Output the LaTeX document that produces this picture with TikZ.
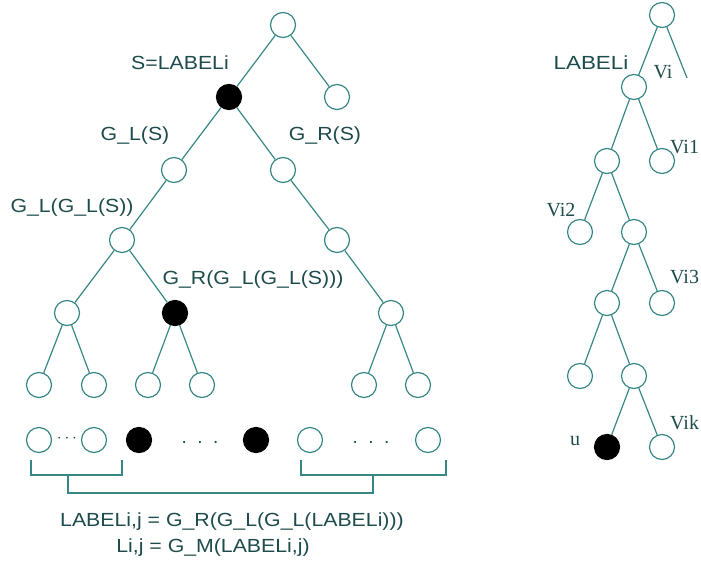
\documentclass[tikz,border=0pt]{standalone}
\usepackage{fontspec}
\setmainfont{Liberation Sans}
\newfontfamily\serifv{Liberation Serif}
\definecolor{lc}{RGB}{55,135,135}
\definecolor{tc}{RGB}{30,75,75}
\newcommand{\wide}[1]{\scalebox{1.12}[1]{#1}}
\tikzset{
  circ/.style={circle, draw=lc, line width=1.2pt, minimum size=25pt, inner sep=0pt},
  blk/.style={circ, fill=black, draw=black},
  edge/.style={draw=lc, line width=1.2pt},
  lbl/.style={text=tc, inner sep=0pt, font=\fontsize{19}{21}\selectfont},
  slbl/.style={text=tc, inner sep=0pt, font=\serifv\fontsize{20}{22}\selectfont},
}
\begin{document}
\begin{tikzpicture}[x=1pt,y=-1pt]
\useasboundingbox (0,0) rectangle (701,565);
% left tree
\node[circ] (r) at (283,25) {};
\node[blk] (s) at (229,97) {};
\node[circ] (rr) at (337,97) {};
\node[circ] (a) at (174,170) {};
\node[circ] (b) at (283,170) {};
\node[circ] (c) at (122,240) {};
\node[circ] (d) at (337,240) {};
\node[circ] (e) at (67,313) {};
\node[blk] (f) at (175,313) {};
\node[circ] (g) at (391,313) {};
\node[circ] (h1) at (39,385) {};
\node[circ] (h2) at (94,385) {};
\node[circ] (h3) at (148,385) {};
\node[circ] (h4) at (202,385) {};
\node[circ] (h5) at (364,385) {};
\node[circ] (h6) at (418,385) {};
\node[circ] (q1) at (39,440) {};
\node[circ] (q2) at (94,440) {};
\node[blk] (q3) at (139,440) {};
\node[blk] (q4) at (256,440) {};
\node[circ] (q5) at (310,440) {};
\node[circ] (q6) at (428,440) {};
\foreach \u/\v in {r/s,r/rr,s/a,s/b,a/c,b/d,c/e,c/f,d/g,e/h1,e/h2,f/h3,f/h4,g/h5,g/h6}
  \draw[edge] (\u) -- (\v);
% dots
\node[text=tc, inner sep=0pt] (dt1) at (67,439) {\fontsize{16}{16}\selectfont$\cdots$};
\node[lbl] (dt2) at (200,442) {.\ \ .\ \ .};
\node[lbl] (dt3) at (371,442) {.\ \ .\ \ .};
% brackets
\draw[edge] (31,460) -- (31,475) -- (122,475) -- (122,460);
\draw[edge] (301,460) -- (301,475) -- (446,475) -- (446,460);
\draw[edge] (68,475) -- (68,493) -- (373,493) -- (373,475);
% labels left
\node[lbl] (l1) at (180,63) {\wide{S=LABELi}};
\node[lbl] (l2) at (135,136) {\wide{G\_L(S)}};
\node[lbl] (l3) at (325,136) {\wide{G\_R(S)}};
\node[lbl] (l4) at (72,208) {\wide{G\_L(G\_L(S))}};
\node[lbl] (l5) at (253,280) {\wide{G\_R(G\_L(G\_L(S)))}};
\node[lbl] (l6) at (232,522) {\wide{LABELi,j = G\_R(G\_L(G\_L(LABELi)))}};
\node[lbl] (l7) at (213,548) {\wide{Li,j = G\_M(LABELi,j)}};
% right tree
\node[circ] (R0) at (662,15) {};
\coordinate (Rend) at (687,78);
\node[circ] (R1) at (634,87) {};
\node[circ] (R2a) at (607,161) {};
\node[circ] (R2b) at (662,161) {};
\node[circ] (R3a) at (580,232) {};
\node[circ] (R3b) at (634,232) {};
\node[circ] (R4a) at (607,303) {};
\node[circ] (R4b) at (662,303) {};
\node[circ] (R5a) at (580,376) {};
\node[circ] (R5b) at (634,376) {};
\node[blk] (R6a) at (607,447) {};
\node[circ] (R6b) at (662,447) {};
\foreach \u/\v in {R0/R1,R1/R2a,R1/R2b,R2a/R3a,R2a/R3b,R3b/R4a,R3b/R4b,R4a/R5a,R4a/R5b,R5b/R6a,R5b/R6b}
  \draw[edge] (\u) -- (\v);
\draw[edge] (R0) -- (Rend);
\node[lbl] (m1) at (591,63) {\scalebox{1.18}[1]{LABELi}};
\node[slbl] (m2) at (663,72) {Vi};
\node[slbl, anchor=west] (m3) at (670,147) {Vi1};
\node[slbl] (m4) at (561,210) {Vi2};
\node[slbl, anchor=west] (m5) at (670,277) {Vi3};
\node[slbl, anchor=west] (m6) at (670,423) {Vik};
\node[slbl] (m7) at (575,441) {u};
\end{tikzpicture}
\end{document}
